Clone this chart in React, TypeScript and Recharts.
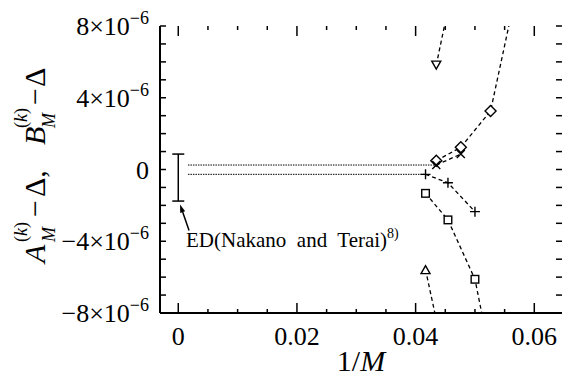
import React from 'react';
import { ComposedChart, Line, Scatter, ErrorBar, XAxis, YAxis, ReferenceDot } from 'recharts';

const SERIF = "'Liberation Serif', 'Times New Roman', Times, 'DejaVu Serif', serif";
const PLOT_TOP = 26;
const PLOT_RIGHT = 562;

// 1/M for odd sizes M = 23, 21, 19, 17 and even sizes M = 24, 22, 20, 18
const xOdd = [0.04348, 0.04762, 0.05263, 0.05882];
const xEven = [0.04167, 0.04545, 0.05, 0.05556];

// values in units of 1e-6
const diamondY = [0.49, 1.24, 3.26, 12.8];
const crossY = [0.25, 0.86];
const triDownY = [5.82, 12.4];
const plusY = [-0.27, -0.74, -2.35];
const squareY = [-1.33, -2.81, -6.12, -15.3];
const triUpY = [-5.58, -11.4];

// dotted extrapolations to 1/M -> 0
const upperExtrapX = [0.00163, 0.04348];
const upperExtrapY = [0.25, 0.25];
const lowerExtrapX = [0.00163, 0.04167];
const lowerExtrapY = [-0.27, -0.27];

// exact diagonalization estimate
const edX = [0];
const edY = [-0.45];
const edErr = [1.31];

const xTicks = [0, 0.005, 0.01, 0.015, 0.02, 0.025, 0.03, 0.035, 0.04, 0.045, 0.05, 0.055, 0.06];
const xMajor = [0, 0.02, 0.04, 0.06];
const xMajorLabels = ['0', '0.02', '0.04', '0.06'];
const yTicks = [-8, -7, -6, -5, -4, -3, -2, -1, 0, 1, 2, 3, 4, 5, 6, 7, 8];
const yMajor = [-8, -4, 0, 4, 8];
const yMajorMant = ['\u22128', '\u22124', '0', '4', '8'];

const zip = (xs: number[], ys: number[]) => xs.map((x, i) => ({ x, y: ys[i] }));

const findIdx = (arr: number[], v: number) => arr.findIndex((a) => Math.abs(a - v) < 1e-9);

const serif = (size: number) => ({ fontFamily: SERIF, fontSize: size });

const XTick = (p: any) => {
  const { x, y, payload } = p;
  const i = findIdx(xMajor, payload.value);
  const len = i >= 0 ? 10 : 4;
  return (
    <g>
      <line x1={x} x2={x} y1={y} y2={y - len} stroke="#000" strokeWidth={1.5} />
      <line x1={x} x2={x} y1={PLOT_TOP} y2={PLOT_TOP + len} stroke="#000" strokeWidth={1.5} />
      {i >= 0 && (
        <text x={x} y={y + 32} textAnchor="middle" style={serif(26)} fill="#000">
          {xMajorLabels[i]}
        </text>
      )}
    </g>
  );
};

const YTick = (p: any) => {
  const { x, y, payload } = p;
  const i = findIdx(yMajor, payload.value);
  return (
    <g>
      <line x1={x} x2={x + 6} y1={y} y2={y} stroke="#000" strokeWidth={1.5} />
      <line x1={PLOT_RIGHT - 6} x2={PLOT_RIGHT} y1={y} y2={y} stroke="#000" strokeWidth={1.5} />
      {i >= 0 && (
        <text x={x - 11} y={y + 9} textAnchor="end" style={serif(26)} fill="#000">
          {yMajorMant[i]}
          {yMajor[i] !== 0 && <tspan>×10</tspan>}
          {yMajor[i] !== 0 && (
            <tspan style={serif(18)} dy={-11}>
              {'\u22126'}
            </tspan>
          )}
        </text>
      )}
    </g>
  );
};

const YLabel = () => (
  <text transform="rotate(-90)" style={serif(30)} fill="#000">
    <tspan x={-263} y={45} fontStyle="italic">A</tspan>
    <tspan x={-242} y={27} style={serif(18)}>(</tspan>
    <tspan style={serif(18)} fontStyle="italic">k</tspan>
    <tspan style={serif(18)}>)</tspan>
    <tspan x={-242} y={55} style={serif(18)} fontStyle="italic">M</tspan>
    <tspan x={-217} y={45}>{'\u2212'}</tspan>
    <tspan x={-197} y={45}>Δ,</tspan>
    <tspan x={-145} y={45} fontStyle="italic">B</tspan>
    <tspan x={-128} y={27} style={serif(18)}>(</tspan>
    <tspan style={serif(18)} fontStyle="italic">k</tspan>
    <tspan style={serif(18)}>)</tspan>
    <tspan x={-128} y={55} style={serif(18)} fontStyle="italic">M</tspan>
    <tspan x={-105} y={45}>{'\u2212'}</tspan>
    <tspan x={-87} y={45}>Δ</tspan>
  </text>
);

const XLabel = () => (
  <text x={361} y={371} textAnchor="middle" style={serif(30)} fill="#000">
    1/<tspan fontStyle="italic">M</tspan>
  </text>
);

type Kind = 'diamond' | 'cross' | 'triDown' | 'plus' | 'square' | 'triUp';

const Marker = ({ kind, cx, cy }: { kind: Kind; cx: number; cy: number }) => {
  const s = { stroke: '#000', strokeWidth: 1.4, fill: '#fff' };
  switch (kind) {
    case 'diamond':
      return <path d={`M${cx},${cy - 5.5}L${cx + 5.5},${cy}L${cx},${cy + 5.5}L${cx - 5.5},${cy}Z`} {...s} />;
    case 'square':
      return <rect x={cx - 3.8} y={cy - 3.8} width={7.6} height={7.6} {...s} />;
    case 'triDown':
      return <path d={`M${cx - 4.5},${cy - 4}L${cx + 4.5},${cy - 4}L${cx},${cy + 4}Z`} {...s} />;
    case 'triUp':
      return <path d={`M${cx - 4.5},${cy + 4}L${cx + 4.5},${cy + 4}L${cx},${cy - 4}Z`} {...s} />;
    case 'cross':
      return <path d={`M${cx - 4},${cy - 4}L${cx + 4},${cy + 4}M${cx - 4},${cy + 4}L${cx + 4},${cy - 4}`} stroke="#000" strokeWidth={1.4} />;
    default:
      return <path d={`M${cx - 5},${cy}L${cx + 5},${cy}M${cx},${cy - 5}L${cx},${cy + 5}`} stroke="#000" strokeWidth={1.4} />;
  }
};

const dotOf = (kind: Kind) => (p: any) =>
  p.payload.y >= -8 && p.payload.y <= 8 ? (
    <Marker key={p.index} kind={kind} cx={p.cx} cy={p.cy} />
  ) : (
    <g key={p.index} />
  );

const EdNote = (p: any) => {
  const { cx, cy } = p;
  const tx = cx + 9;
  const ty = cy + 26;
  const dx = cx - tx;
  const dy = cy - ty;
  const l = Math.hypot(dx, dy);
  const ux = dx / l;
  const uy = dy / l;
  const bx = cx - ux * 8;
  const by = cy - uy * 8;
  return (
    <g>
      <line x1={tx} y1={ty} x2={bx} y2={by} stroke="#000" strokeWidth={1.5} />
      <path d={`M${cx},${cy}L${bx - uy * 2.6},${by + ux * 2.6}L${bx + uy * 2.6},${by - ux * 2.6}Z`} fill="#000" />
      <text x={cx + 6} y={cy + 43} style={{ ...serif(21), whiteSpace: 'pre' }} fill="#000">
        {'ED(Nakano  and  Terai)'}
        <tspan style={serif(14)} dy={-9}>8)</tspan>
      </text>
    </g>
  );
};

const series: { kind: Kind; xs: number[]; ys: number[] }[] = [
  { kind: 'diamond', xs: xOdd, ys: diamondY },
  { kind: 'cross', xs: xOdd.slice(0, 2), ys: crossY },
  { kind: 'triDown', xs: xOdd.slice(0, 2), ys: triDownY },
  { kind: 'plus', xs: xEven.slice(0, 3), ys: plusY },
  { kind: 'square', xs: xEven, ys: squareY },
  { kind: 'triUp', xs: xEven.slice(0, 2), ys: triUpY },
];

export default function App() {
  const edData = edX.map((x, i) => ({ x, y: edY[i], err: edErr[i] }));
  return (
    <div style={{ position: 'absolute', left: 0, top: 0, width: 564, height: 376, background: '#fff' }}>
      <ComposedChart width={564} height={376} margin={{ top: PLOT_TOP, right: 2, bottom: 0, left: 0 }}>
        <XAxis
          type="number"
          dataKey="x"
          domain={[-0.00308, 0.06467]}
          allowDataOverflow
          ticks={xTicks}
          interval={0}
          tickSize={0}
          tickMargin={0}
          tickLine={false}
          tick={<XTick />}
          height={63}
          axisLine={{ stroke: '#000', strokeWidth: 2 }}
          label={<XLabel />}
        />
        <XAxis
          xAxisId="top"
          orientation="top"
          type="number"
          domain={[-0.00308, 0.06467]}
          height={0}
          tick={false}
          tickLine={false}
          axisLine={{ stroke: '#000', strokeWidth: 2 }}
        />
        <YAxis
          type="number"
          dataKey="y"
          domain={[-8, 8]}
          allowDataOverflow
          ticks={yTicks}
          interval={0}
          tickSize={0}
          tickMargin={0}
          tickLine={false}
          tick={<YTick />}
          width={160}
          axisLine={{ stroke: '#000', strokeWidth: 2 }}
          label={<YLabel />}
        />
        <YAxis
          yAxisId="right"
          orientation="right"
          type="number"
          domain={[-8, 8]}
          width={0}
          tick={false}
          tickLine={false}
          axisLine={{ stroke: '#000', strokeWidth: 2 }}
        />
        <Line
          data={zip(upperExtrapX, upperExtrapY)}
          dataKey="y"
          type="linear"
          stroke="#000"
          strokeWidth={1}
          strokeDasharray="1.5 1"
          dot={false}
          isAnimationActive={false}
        />
        <Line
          data={zip(lowerExtrapX, lowerExtrapY)}
          dataKey="y"
          type="linear"
          stroke="#000"
          strokeWidth={1}
          strokeDasharray="1.5 1"
          dot={false}
          isAnimationActive={false}
        />
        {series.map((s) => (
          <Line
            key={s.kind}
            data={zip(s.xs, s.ys)}
            dataKey="y"
            type="linear"
            stroke="#000"
            strokeWidth={1.3}
            strokeDasharray="4 3"
            dot={dotOf(s.kind)}
            activeDot={false}
            isAnimationActive={false}
          />
        ))}
        <Scatter data={edData} dataKey="y" shape={() => <g />} isAnimationActive={false}>
          <ErrorBar dataKey="err" direction="y" width={6} stroke="#000" strokeWidth={1.5} isAnimationActive={false} />
        </Scatter>
        <ReferenceDot x={0.0003} y={-1.95} r={0} ifOverflow="visible" shape={(p: any) => <EdNote {...p} />} />
      </ComposedChart>
    </div>
  );
}
